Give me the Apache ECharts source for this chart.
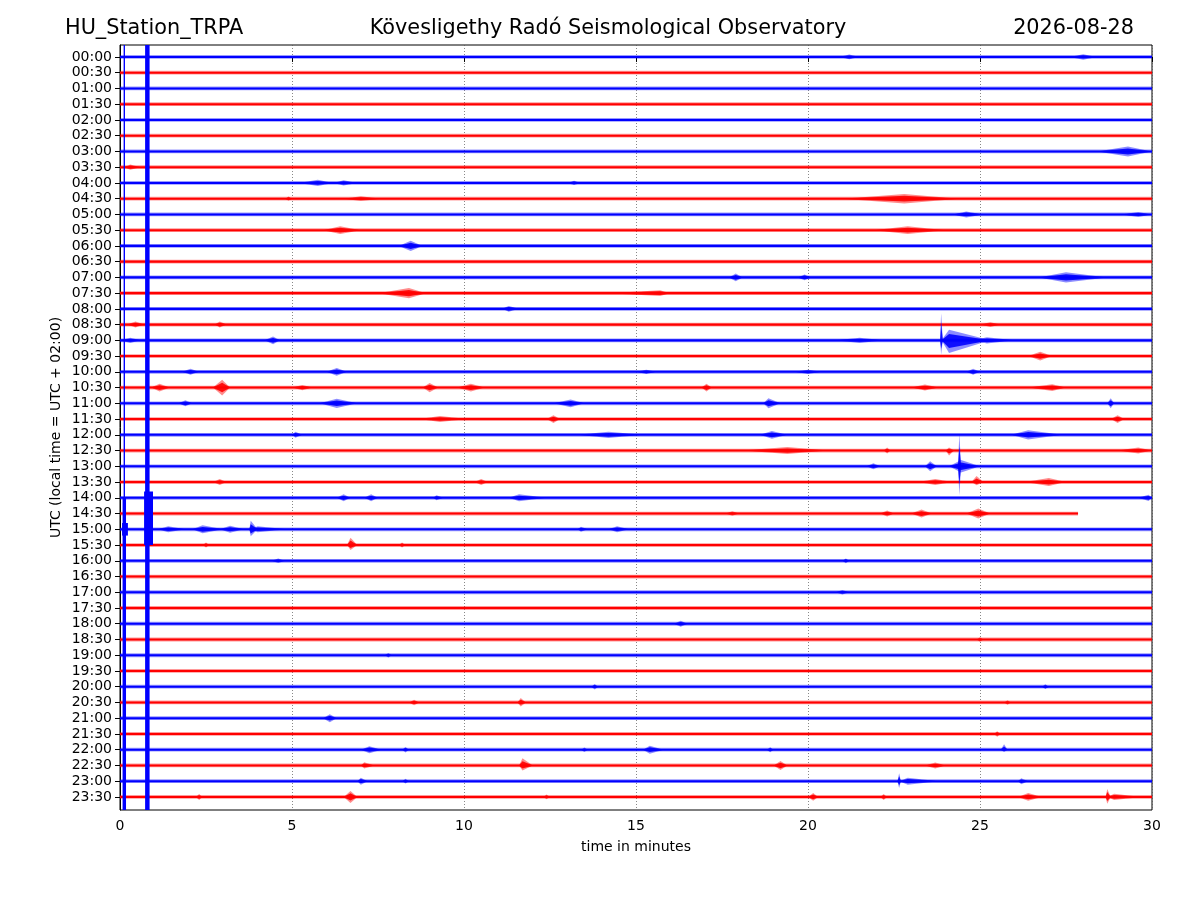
<!DOCTYPE html>
<html>
<head>
<meta charset="utf-8">
<title>HU_Station_TRPA helicorder</title>
<script src="https://cdn.jsdelivr.net/npm/echarts@6/dist/echarts.min.js"></script>
<style>
  html, body { margin: 0; padding: 0; background: #fff; }
  #chart { width: 1200px; height: 900px; }
</style>
</head>
<body>
<div id="chart"></div>
<script>
// --- Data read off the helicorder ---
// one row per half hour, y value = row index (0 = 00:00 at the top)
const rowLabels = [
    '00:00', '00:30', '01:00', '01:30', '02:00', '02:30', '03:00', '03:30',
    '04:00', '04:30', '05:00', '05:30', '06:00', '06:30', '07:00', '07:30',
    '08:00', '08:30', '09:00', '09:30', '10:00', '10:30', '11:00', '11:30',
    '12:00', '12:30', '13:00', '13:30', '14:00', '14:30', '15:00', '15:30',
    '16:00', '16:30', '17:00', '17:30', '18:00', '18:30', '19:00', '19:30',
    '20:00', '20:30', '21:00', '21:30', '22:00', '22:30', '23:00', '23:30'
];
const xTicks = [0, 5, 10, 15, 20, 25, 30];

// background noise half-width of every trace, in row units
const noiseCore = 0.065;
const noiseFuzz = 0.12;

// rows whose record stops before 30 minutes: [row, end minute]
const shortRows = [[29, 27.85]];

// bursts / arrivals: [row, start min, peak min, end min, amplitude up, amplitude down]
const events = [
    [0, 20.9, 21.2, 21.5, 0.15, 0.15], [0, 27.6, 28.0, 28.4, 0.17, 0.17],
    [6, 28.4, 29.3, 30.0, 0.32, 0.32],
    [7, 0.1, 0.3, 0.6, 0.17, 0.17],
    [8, 5.2, 5.75, 6.2, 0.2, 0.2], [8, 6.2, 6.5, 6.9, 0.17, 0.17], [8, 13.0, 13.2, 13.4, 0.14, 0.14],
    [9, 4.8, 4.9, 5.0, 0.14, 0.14], [9, 6.5, 7.0, 7.6, 0.15, 0.15], [9, 21.0, 22.8, 24.4, 0.3, 0.3],
    [10, 24.2, 24.6, 25.1, 0.19, 0.19], [10, 29.1, 29.6, 30.0, 0.16, 0.16],
    [11, 5.9, 6.4, 7.0, 0.25, 0.25], [11, 21.9, 22.9, 24.0, 0.25, 0.25],
    [12, 8.1, 8.45, 8.8, 0.32, 0.32],
    [14, 17.7, 17.9, 18.1, 0.25, 0.25], [14, 19.7, 19.9, 20.1, 0.19, 0.19], [14, 26.7, 27.5, 28.7, 0.32, 0.32],
    [15, 7.5, 8.4, 8.9, 0.32, 0.32], [15, 14.2, 15.7, 16.0, 0.19, 0.19],
    [16, 11.1, 11.3, 11.6, 0.19, 0.19],
    [17, 0.2, 0.45, 0.7, 0.19, 0.19], [17, 2.75, 2.9, 3.1, 0.19, 0.19], [17, 25.0, 25.3, 25.6, 0.15, 0.15],
    [18, 0.0, 0.3, 0.6, 0.16, 0.16], [18, 4.2, 4.45, 4.65, 0.25, 0.25], [18, 20.8, 21.5, 22.2, 0.16, 0.16],
    [18, 23.84, 23.87, 23.92, 1.72, 0.9], [18, 23.88, 24.1, 25.3, 0.68, 0.8], [18, 24.8, 25.2, 26.0, 0.2, 0.2],
    [19, 26.4, 26.75, 27.1, 0.28, 0.28],
    [20, 1.8, 2.05, 2.3, 0.19, 0.19], [20, 6.0, 6.3, 6.6, 0.25, 0.25], [20, 15.0, 15.3, 15.6, 0.14, 0.14],
    [20, 19.6, 20.0, 20.4, 0.14, 0.14], [20, 24.6, 24.8, 25.0, 0.19, 0.19],
    [21, 0.9, 1.15, 1.45, 0.25, 0.25], [21, 2.7, 2.97, 3.2, 0.5, 0.5], [21, 5.0, 5.3, 5.6, 0.17, 0.17],
    [21, 8.8, 9.0, 9.25, 0.29, 0.29], [21, 9.8, 10.2, 10.6, 0.25, 0.25], [21, 16.9, 17.05, 17.2, 0.25, 0.25],
    [21, 23.0, 23.4, 23.8, 0.19, 0.19], [21, 26.4, 27.1, 27.5, 0.22, 0.22],
    [22, 1.7, 1.9, 2.1, 0.19, 0.19], [22, 5.8, 6.3, 6.9, 0.29, 0.29], [22, 12.6, 13.1, 13.5, 0.25, 0.25],
    [22, 18.7, 18.85, 19.2, 0.32, 0.32], [22, 28.7, 28.8, 28.9, 0.32, 0.32],
    [23, 8.7, 9.3, 10.1, 0.19, 0.19], [23, 12.4, 12.6, 12.8, 0.25, 0.25], [23, 28.8, 29.0, 29.2, 0.25, 0.25],
    [24, 5.0, 5.1, 5.3, 0.19, 0.19], [24, 13.3, 14.2, 15.2, 0.2, 0.2], [24, 18.6, 18.95, 19.4, 0.25, 0.25],
    [24, 25.9, 26.4, 27.4, 0.29, 0.29],
    [25, 18.1, 19.4, 20.6, 0.22, 0.22], [25, 22.2, 22.3, 22.4, 0.19, 0.19], [25, 24.0, 24.1, 24.25, 0.2, 0.32],
    [25, 29.0, 29.6, 30.0, 0.19, 0.19],
    [26, 21.7, 21.9, 22.1, 0.19, 0.19], [26, 23.4, 23.55, 23.75, 0.32, 0.32],
    [26, 24.36, 24.4, 24.45, 2.1, 1.84], [26, 24.1, 24.45, 25.0, 0.4, 0.4],
    [27, 2.7, 2.9, 3.1, 0.19, 0.19], [27, 10.3, 10.5, 10.7, 0.19, 0.19], [27, 23.2, 23.7, 24.2, 0.19, 0.19],
    [27, 24.75, 24.9, 25.1, 0.38, 0.2], [27, 26.3, 27.0, 27.5, 0.25, 0.25],
    [28, 6.3, 6.5, 6.7, 0.22, 0.22], [28, 7.1, 7.3, 7.5, 0.22, 0.22], [28, 9.1, 9.2, 9.4, 0.16, 0.16],
    [28, 11.3, 11.6, 12.4, 0.22, 0.22], [28, 29.6, 29.9, 30.0, 0.2, 0.2],
    [29, 17.6, 17.8, 18.0, 0.14, 0.14], [29, 22.1, 22.3, 22.5, 0.19, 0.19], [29, 23.0, 23.3, 23.6, 0.25, 0.25],
    [29, 24.6, 24.95, 25.3, 0.32, 0.32],
    [30, 1.1, 1.4, 1.9, 0.19, 0.19], [30, 2.1, 2.4, 3.0, 0.25, 0.25], [30, 2.9, 3.2, 3.6, 0.22, 0.22],
    [30, 3.76, 3.8, 4.0, 0.54, 0.44], [30, 3.8, 4.0, 4.85, 0.19, 0.19], [30, 13.3, 13.4, 13.6, 0.16, 0.16],
    [30, 14.2, 14.45, 14.8, 0.19, 0.19],
    [31, 2.4, 2.5, 2.6, 0.16, 0.16], [31, 6.6, 6.7, 6.9, 0.47, 0.32], [31, 8.1, 8.2, 8.3, 0.16, 0.16],
    [32, 4.4, 4.6, 4.8, 0.14, 0.14], [32, 21.0, 21.1, 21.2, 0.15, 0.15],
    [34, 20.8, 21.0, 21.2, 0.14, 0.14],
    [36, 16.1, 16.3, 16.5, 0.19, 0.19],
    [37, 24.9, 25.0, 25.1, 0.14, 0.14],
    [38, 7.7, 7.8, 7.9, 0.14, 0.14],
    [40, 13.7, 13.8, 13.9, 0.17, 0.17], [40, 26.8, 26.9, 27.0, 0.15, 0.15],
    [41, 8.4, 8.55, 8.7, 0.17, 0.17], [41, 11.55, 11.65, 11.8, 0.28, 0.25], [41, 25.7, 25.8, 25.9, 0.14, 0.14],
    [42, 5.9, 6.1, 6.3, 0.25, 0.25],
    [43, 25.4, 25.5, 25.6, 0.17, 0.17],
    [44, 7.0, 7.25, 7.6, 0.22, 0.22], [44, 8.2, 8.3, 8.4, 0.17, 0.17], [44, 13.4, 13.5, 13.6, 0.14, 0.14],
    [44, 15.2, 15.4, 15.8, 0.25, 0.25], [44, 18.8, 18.9, 19.0, 0.16, 0.16], [44, 25.6, 25.7, 25.8, 0.35, 0.15],
    [45, 7.0, 7.1, 7.4, 0.2, 0.2], [45, 11.6, 11.7, 12.0, 0.45, 0.32], [45, 19.0, 19.2, 19.4, 0.29, 0.29],
    [45, 23.4, 23.7, 24.0, 0.19, 0.19],
    [46, 6.9, 7.0, 7.2, 0.22, 0.22], [46, 8.2, 8.3, 8.4, 0.15, 0.15], [46, 22.6, 22.65, 22.7, 0.51, 0.44],
    [46, 22.65, 22.9, 23.8, 0.22, 0.22], [46, 26.1, 26.2, 26.4, 0.19, 0.19],
    [47, 2.2, 2.3, 2.4, 0.19, 0.19], [47, 6.5, 6.7, 6.9, 0.38, 0.38], [47, 12.3, 12.4, 12.5, 0.15, 0.15],
    [47, 20.0, 20.15, 20.3, 0.25, 0.25], [47, 22.1, 22.2, 22.3, 0.19, 0.19], [47, 26.1, 26.4, 26.8, 0.25, 0.25],
    [47, 28.65, 28.7, 28.8, 0.51, 0.44], [47, 28.7, 28.9, 29.7, 0.2, 0.2]
];

// large blue pulses that run across many rows: [from min, to min, from row, to row]
const pulses = [
    [0.73, 0.86, -0.76, 47.83],
    [0.70, 0.96, 27.6, 31.0],
    [0.105, 0.145, -0.76, 47.83],
    [0.075, 0.175, 28.0, 47.83],
    [0.06, 0.23, 29.6, 30.4]
];

const yMin = -0.76;
const yMax = 47.83;

// --- Chart ---
const FONT = 'DejaVu Sans';
const TITLE_FONT = '20.8px "DejaVu Sans"';
const rowColor = row => (row % 2 === 0 ? '#0000ff' : '#ff0000');

const rows = rowLabels.map((label, i) => {
    const short = shortRows.find(r => r[0] === i);
    return [i, short ? short[1] : 30];
});

function renderRow(params, api) {
    const row = api.value(0);
    const end = api.value(1);
    const color = rowColor(row);
    const band = h => [
        api.coord([0, row - h]), api.coord([end, row - h]),
        api.coord([end, row + h]), api.coord([0, row + h])
    ];
    return {
        type: 'group',
        children: [
            { type: 'polygon', shape: { points: band(noiseFuzz) }, style: { fill: color, opacity: 0.4 } },
            { type: 'polygon', shape: { points: band(noiseCore) }, style: { fill: color } }
        ]
    };
}

function renderEvent(params, api) {
    const row = api.value(0);
    const t0 = api.value(1), tp = api.value(2), t1 = api.value(3);
    const up = api.value(4), down = api.value(5);
    const color = rowColor(row);
    // outer soft envelope plus a denser inner core
    const diamond = k => [
        api.coord([t0, row]), api.coord([tp, row - up * k]),
        api.coord([t1, row]), api.coord([tp, row + down * k])
    ];
    return {
        type: 'group',
        children: [
            { type: 'polygon', shape: { points: diamond(1) }, style: { fill: color, opacity: 0.45 } },
            { type: 'polygon', shape: { points: diamond(0.6) }, style: { fill: color, opacity: 0.9 } }
        ]
    };
}

function renderPulse(params, api) {
    const a = api.coord([api.value(0), api.value(2)]);
    const b = api.coord([api.value(1), api.value(3)]);
    return {
        type: 'rect',
        shape: { x: a[0], y: a[1], width: b[0] - a[0], height: b[1] - a[1] },
        style: { fill: '#0000ff' }
    };
}

const chart = echarts.init(document.getElementById('chart'));
chart.setOption({
    animation: false,
    backgroundColor: '#fff',
    textStyle: { fontFamily: FONT },
    graphic: [
        { type: 'text', x: 65, y: 29, style: { text: 'HU_Station_TRPA', font: TITLE_FONT, fill: '#000', verticalAlign: 'middle' } },
        { type: 'text', x: 608, y: 29, style: { text: 'Kövesligethy Radó Seismological Observatory', font: TITLE_FONT, fill: '#000', align: 'center', verticalAlign: 'middle' } },
        { type: 'text', x: 1134, y: 29, style: { text: '2026-08-28', font: TITLE_FONT, fill: '#000', align: 'right', verticalAlign: 'middle' } }
    ],
    grid: {
        left: 120, right: 48, top: 45, bottom: 90,
        show: true, borderColor: '#000', borderWidth: 1
    },
    xAxis: {
        type: 'value',
        min: xTicks[0],
        max: xTicks[xTicks.length - 1],
        interval: 5,
        name: 'time in minutes',
        nameLocation: 'middle',
        nameGap: 30,
        nameTextStyle: { fontSize: 14, color: '#000', fontFamily: FONT },
        axisLine: { show: true, lineStyle: { color: '#000', width: 1 } },
        axisTick: { show: true, length: 5, lineStyle: { color: '#000' } },
        axisLabel: { fontSize: 14, color: '#000', margin: 9, fontFamily: FONT },
        splitLine: { show: true, lineStyle: { color: '#555', width: 0.7, type: [1, 2] } }
    },
    yAxis: {
        type: 'value',
        inverse: true,
        min: yMin,
        max: yMax,
        name: 'UTC (local time = UTC + 02:00)',
        nameLocation: 'middle',
        nameRotate: 90,
        nameGap: 57,
        nameMoveOverlap: false,
        nameTextStyle: { fontSize: 14, color: '#000', fontFamily: FONT },
        axisLine: { show: true, lineStyle: { color: '#000', width: 1 } },
        axisTick: { show: true, length: 5, lineStyle: { color: '#000' }, customValues: rowLabels.map((l, i) => i) },
        axisLabel: {
            fontSize: 14, color: '#000', margin: 8, fontFamily: FONT,
            customValues: rowLabels.map((l, i) => i),
            formatter: v => rowLabels[Math.round(v)]
        },
        splitLine: { show: false }
    },
    series: [
        { type: 'custom', name: 'rows', renderItem: renderRow, data: rows, z: 2 },
        { type: 'custom', name: 'events', renderItem: renderEvent, data: events, z: 3 },
        { type: 'custom', name: 'pulses', renderItem: renderPulse, data: pulses, z: 4 }
    ]
});
</script>
</body>
</html>
